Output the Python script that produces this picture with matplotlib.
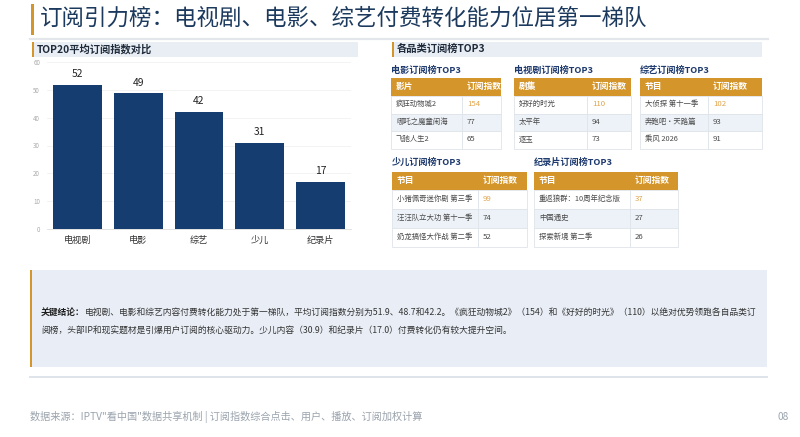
import matplotlib
matplotlib.use("Agg")
import matplotlib.pyplot as plt
from matplotlib.patches import Rectangle

plt.rcParams['font.family'] = ['Noto Sans CJK SC', 'DejaVu Sans']

# ---- data ----
categories = ['电视剧', '电影', '综艺', '少儿', '纪录片']
avg_index = [51.9, 48.7, 42.2, 30.9, 17.0]
y_ticks = [0, 10, 20, 30, 40, 50, 60]

movie_names = ['疯狂动物城2', '哪吒之魔童闹海', '飞驰人生2']
movie_vals = [154, 77, 65]
tv_names = ['好好的时光', '太平年', '逐玉']
tv_vals = [110, 94, 73]
variety_names = ['大侦探 第十一季', '奔跑吧·天路篇', '乘风 2026']
variety_vals = [102, 93, 91]
kids_names = ['小猪佩奇迷你剧 第三季', '汪汪队立大功 第十一季', '奶龙搞怪大作战 第二季']
kids_vals = [99, 74, 52]
doc_names = ['重返狼群：10周年纪念版', '中国通史', '探索新境 第二季']
doc_vals = [37, 27, 26]

title = '订阅引力榜：电视剧、电影、综艺付费转化能力位居第一梯队'
key_label = '关键结论：'
key_line1 = ('电视剧、电影和综艺内容付费转化能力处于第一梯队，平均订阅指数分别为51.9、48.7和42.2。'
             '《疯狂动物城2》（154）和《好好的时光》（110）以绝对优势领跑各自品类订')
key_line2 = '阅榜，头部IP和现实题材是引爆用户订阅的核心驱动力。少儿内容（30.9）和纪录片（17.0）付费转化仍有较大提升空间。'
source = '数据来源：IPTV"看中国"数据共享机制 | 订阅指数综合点击、用户、播放、订阅加权计算'

# ---- colours ----
NAVY = '#1c3a5e'
GOLD = '#d4952b'
BAND = '#e9eef5'
ALT = '#edf2f8'
BAR = '#163d6f'
HIGH = '#e0a34a'
LINE = '#dfe4ea'

W, H = 800, 437
fig = plt.figure(figsize=(8, 4.37), dpi=100)
fig.patch.set_facecolor('white')

# overlay in pixel coordinates
ov = fig.add_axes([0, 0, 1, 1])
ov.set_xlim(0, W)
ov.set_ylim(H, 0)
ov.axis('off')

# title
ov.add_patch(Rectangle((31, 4), 2.5, 31, color=GOLD, lw=0))
ov.text(40, 18, title, fontsize=16.2, color=NAVY, va='center', ha='left')
ov.plot([30, 768], [38.5, 38.5], color='#e3e7ec', lw=1.6)


def section(x0, x1, y0, y1, text):
    ov.add_patch(Rectangle((x0, y0), x1 - x0, y1 - y0, color=BAND, lw=0))
    ov.add_patch(Rectangle((x0, y0), 1.8, y1 - y0, color=GOLD, lw=0))
    ov.text(x0 + 5, (y0 + y1) / 2 - 0.5, text, fontsize=7.4, fontweight='bold',
            color='#1e2a3a', va='center', ha='left')


section(32, 358, 42, 57, 'TOP20平均订阅指数对比')
section(392, 762, 42, 57, '各品类订阅榜TOP3')


def table(x0, xs, x1, title_y, y0, hh, rh, head, names, vals, ttl):
    ov.text(x0, title_y, ttl, fontsize=6.6, fontweight='bold', color='#1e3a6e',
            va='center', ha='left')
    ov.add_patch(Rectangle((x0, y0), x1 - x0, hh, color=GOLD, lw=0))
    ov.text(x0 + 5, y0 + hh / 2 - 0.5, head, fontsize=6.3, fontweight='bold',
            color='white', va='center', ha='left')
    ov.text(xs + 5, y0 + hh / 2 - 0.5, '订阅指数', fontsize=6.3, fontweight='bold',
            color='white', va='center', ha='left')
    for i, (n, v) in enumerate(zip(names, vals)):
        ry = y0 + hh + i * rh
        fc = ALT if i % 2 == 1 else 'white'
        ov.add_patch(Rectangle((x0, ry), xs - x0, rh, facecolor=fc,
                               edgecolor=LINE, lw=0.6))
        ov.add_patch(Rectangle((xs, ry), x1 - xs, rh, facecolor=fc,
                               edgecolor=LINE, lw=0.6))
        ov.text(x0 + 5, ry + rh / 2 - 0.5, n, fontsize=5.3, color='#4a4a4a',
                va='center', ha='left')
        ov.text(xs + 5, ry + rh / 2 - 0.5, str(v), fontsize=5.6,
                color=HIGH if i == 0 else '#4a4a4a', va='center', ha='left')


table(391, 462, 501, 70.5, 78, 18, 17.5, '影片', movie_names, movie_vals, '电影订阅榜TOP3')
table(514, 587, 631, 70.5, 78, 18, 17.5, '剧集', tv_names, tv_vals, '电视剧订阅榜TOP3')
table(640, 708, 762, 70.5, 78, 18, 17.5, '节目', variety_names, variety_vals, '综艺订阅榜TOP3')
table(392, 478, 527, 162, 172, 18, 19, '节目', kids_names, kids_vals, '少儿订阅榜TOP3')
table(534, 630, 678, 162, 172, 18, 19, '节目', doc_names, doc_vals, '纪录片订阅榜TOP3')

# key conclusion box
ov.add_patch(Rectangle((30, 270), 737, 97, color='#e9eef6', lw=0))
ov.add_patch(Rectangle((30, 270), 1.5, 97, color=GOLD, lw=0))
ov.plot([30, 767], [377, 377], color=LINE, lw=1.4)
ov.text(41, 313, key_label, fontsize=6.3, fontweight='bold', color='#1e1e1e',
        va='center', ha='left')
ov.text(85, 313, key_line1, fontsize=6.3, color='#333333', va='center', ha='left')
ov.text(41, 331, key_line2, fontsize=6.3, color='#333333', va='center', ha='left')

# footer
ov.text(30, 417, source, fontsize=7.3, color='#9aa3ad', va='center', ha='left')
ov.text(789, 417, '08', fontsize=7.3, color='#9aa3ad', va='center', ha='right')

# ---- bar chart ----
ax = fig.add_axes([47 / W, (H - 229) / H, 304 / W, 167 / H])
ax.set_facecolor('none')
x = list(range(len(categories)))
ax.bar(x, avg_index, width=0.8, color=BAR, zorder=3)
for xi, v in zip(x, avg_index):
    ax.text(xi, v + 2.0, f'{v:.0f}', ha='center', va='bottom', fontsize=7.4,
            color='#222222', fontweight='medium')
ax.set_xlim(-0.5, len(categories) - 0.5)
ax.set_ylim(0, 60)
ax.set_yticks(y_ticks)
ax.set_yticklabels([str(t) for t in y_ticks], fontsize=4.5, color='#aaaaaa')
ax.set_xticks(x)
ax.set_xticklabels(categories, fontsize=6.6, color='#333333')
ax.tick_params(length=0, pad=5)
ax.grid(axis='y', color='#f1f1f1', lw=0.6, zorder=0)
for s in ['top', 'right', 'left']:
    ax.spines[s].set_visible(False)
ax.spines['bottom'].set_color('#dddddd')
ax.spines['bottom'].set_linewidth(0.6)

fig.savefig('out.png', dpi=100, facecolor='white')
